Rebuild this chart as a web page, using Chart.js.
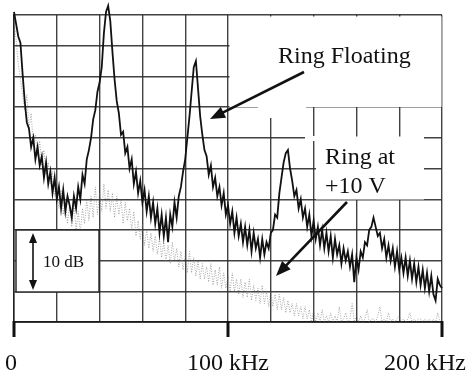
<!DOCTYPE html>
<html>
<head>
<meta charset="utf-8">
<script src="https://cdn.jsdelivr.net/npm/chart.js@4/dist/chart.umd.min.js"></script>
<style>
html,body{margin:0;padding:0;background:#fff;}
#wrap{width:466px;height:374px;position:relative;}
canvas{display:block;}
</style>
</head>
<body>
<div id="wrap"><canvas id="c" width="466" height="374"></canvas></div>
<script>
// Frequency axis (kHz)
const freqKHz = [0,1,2,3,4,5,6,7,8,9,10,11,12,13,14,15,16,17,18,19,20,21,22,23,24,25,26,27,28,29,30,31,32,33,34,35,36,37,38,39,40,41,42,43,44,45,46,47,48,49,50,51,52,53,54,55,56,57,58,59,60,61,62,63,64,65,66,67,68,69,70,71,72,73,74,75,76,77,78,79,80,81,82,83,84,85,86,87,88,89,90,91,92,93,94,95,96,97,98,99,100,101,102,103,104,105,106,107,108,109,110,111,112,113,114,115,116,117,118,119,120,121,122,123,124,125,126,127,128,129,130,131,132,133,134,135,136,137,138,139,140,141,142,143,144,145,146,147,148,149,150,151,152,153,154,155,156,157,158,159,160,161,162,163,164,165,166,167,168,169,170,171,172,173,174,175,176,177,178,179,180,181,182,183,184,185,186,187,188,189,190,191,192,193,194,195,196,197,198,199,200];

// Ring Floating (dB, relative)
const ringFloating = [0.5,-1.5,-3.5,-4.5,-9.5,-14.0,-17.5,-18.5,-21.5,-20.0,-23.5,-21.5,-24.5,-23.0,-26.5,-24.0,-27.5,-25.5,-29.0,-26.5,-30.0,-28.0,-31.5,-28.5,-32.0,-29.5,-31.0,-33.0,-29.5,-31.5,-28.0,-30.0,-26.0,-27.5,-23.5,-22.0,-20.0,-17.0,-15.5,-12.5,-11.0,-8.5,-3.0,0.5,1.5,-1.0,-6.0,-10.5,-14.0,-16.0,-19.5,-19.0,-22.5,-21.5,-25.0,-23.5,-27.5,-25.5,-29.0,-27.0,-30.5,-28.5,-32.0,-29.5,-33.0,-30.5,-34.0,-31.5,-35.5,-32.5,-36.0,-33.0,-37.0,-32.5,-34.5,-30.5,-33.0,-29.5,-28.0,-25.5,-23.5,-20.0,-16.5,-12.5,-8.5,-7.5,-12.0,-16.5,-19.5,-22.0,-23.0,-26.0,-24.5,-28.0,-26.5,-29.5,-28.0,-31.0,-29.0,-32.5,-31.0,-34.0,-32.0,-35.5,-33.0,-36.0,-34.0,-37.0,-34.5,-37.5,-35.0,-38.5,-35.5,-38.0,-36.5,-39.5,-36.5,-39.0,-37.0,-38.0,-35.5,-35.0,-32.5,-33.0,-29.0,-26.5,-24.0,-22.5,-22.0,-25.0,-27.0,-29.5,-28.5,-31.5,-30.0,-33.0,-31.5,-34.5,-32.5,-36.0,-33.5,-36.5,-34.5,-37.5,-35.0,-38.0,-35.5,-38.5,-36.0,-39.5,-36.5,-39.0,-37.5,-40.5,-38.0,-40.0,-38.5,-41.0,-39.0,-43.5,-39.5,-41.5,-38.5,-39.5,-37.0,-37.5,-35.0,-34.5,-33.0,-34.5,-36.0,-35.5,-38.0,-36.5,-39.5,-37.5,-40.0,-38.0,-41.0,-38.5,-41.5,-39.5,-42.0,-39.5,-42.5,-40.0,-43.0,-40.5,-43.5,-41.0,-44.0,-41.5,-44.5,-42.0,-45.0,-42.5,-45.5,-46.5,-43.0,-44.0,-44.5];

// Ring at +10 V (dB, relative)
const ringAt10V = [-1.0,-4.0,-8.0,-10.5,-13.0,-15.5,-13.0,-18.5,-16.0,-21.0,-19.5,-23.0,-20.5,-24.5,-22.0,-26.0,-24.0,-27.5,-25.5,-29.5,-27.0,-31.5,-28.5,-32.5,-30.0,-34.0,-31.0,-34.5,-30.5,-35.0,-32.0,-35.5,-31.5,-34.0,-30.0,-33.5,-29.5,-33.0,-28.0,-32.5,-29.0,-32.0,-27.5,-31.5,-28.5,-32.0,-29.0,-33.0,-29.5,-32.5,-30.0,-34.0,-30.5,-33.5,-31.5,-35.0,-32.0,-36.0,-33.5,-36.5,-34.0,-37.5,-35.0,-38.0,-35.5,-38.5,-36.0,-39.0,-36.5,-39.5,-37.0,-40.0,-37.5,-40.5,-37.0,-40.0,-38.0,-41.0,-38.5,-41.5,-39.0,-42.0,-38.5,-42.0,-39.5,-42.5,-40.0,-43.0,-40.5,-43.0,-41.0,-43.5,-40.5,-44.0,-41.5,-44.0,-41.0,-44.5,-42.0,-44.5,-42.5,-45.0,-42.0,-45.0,-43.0,-45.5,-43.0,-46.0,-43.5,-46.0,-43.0,-46.5,-44.0,-46.5,-44.5,-47.0,-44.0,-47.0,-45.0,-47.5,-45.0,-47.5,-45.5,-48.0,-45.5,-48.0,-46.0,-48.5,-46.5,-48.5,-47.0,-49.0,-47.0,-49.0,-47.5,-49.5,-47.5,-49.5,-48.0,-50.0,-48.0,-50.0,-48.5,-50.0,-48.0,-50.0,-49.0,-50.0,-48.5,-50.0,-49.0,-50.0,-47.5,-50.0,-49.5,-48.5,-50.0,-49.5,-47.0,-50.0,-49.0,-50.0,-49.0,-50.0,-49.5,-48.0,-50.0,-49.5,-49.5,-50.0,-49.0,-47.5,-50.0,-49.5,-50.0,-48.5,-50.0,-49.5,-50.0,-49.5,-49.0,-50.0,-49.5,-50.0,-49.5,-48.5,-50.0,-49.5,-50.0,-49.5,-49.5,-50.0,-49.5,-50.0,-49.5,-50.0,-49.5,-50.0,-48.5,-50.0,-49.5];

// Axis tick labels
const xTickValues = [0, 100, 200];
const xTickLabels = ['0', '100 kHz', '200 kHz'];
const seriesNames = ['Ring Floating', 'Ring at +10 V'];

const SERIF = '"Liberation Serif", "DejaVu Serif", serif';

function arrow(ctx, x1, y1, x2, y2, len, half, lw) {
  const a = Math.atan2(y2 - y1, x2 - x1);
  ctx.lineWidth = lw;
  ctx.beginPath();
  ctx.moveTo(x1, y1);
  ctx.lineTo(x2 - Math.cos(a) * len * 0.8, y2 - Math.sin(a) * len * 0.8);
  ctx.stroke();
  ctx.beginPath();
  ctx.moveTo(x2, y2);
  ctx.lineTo(x2 - Math.cos(a) * len + Math.sin(a) * half, y2 - Math.sin(a) * len - Math.cos(a) * half);
  ctx.lineTo(x2 - Math.cos(a) * len - Math.sin(a) * half, y2 - Math.sin(a) * len + Math.cos(a) * half);
  ctx.closePath();
  ctx.fill();
}

const whiteouts = {
  id: 'whiteouts',
  beforeDatasetsDraw(chart) {
    const ctx = chart.ctx;
    ctx.save();
    ctx.fillStyle = '#fff';
    ctx.fillRect(229.5, 16.5, 212, 90.5);
    ctx.fillRect(258, 100, 48, 18);
    ctx.fillRect(316, 136.5, 108, 63);
    ctx.fillRect(305, 136, 11, 5);
    ctx.restore();
  }
};

const decorations = {
  id: 'decorations',
  afterDatasetsDraw(chart) {
    const ctx = chart.ctx;
    const xs = chart.scales.x;
    const ys = chart.scales.y;
    ctx.save();
    // 10 dB scale box
    ctx.fillStyle = '#fff';
    ctx.fillRect(16, 230, 83, 62);
    ctx.strokeStyle = '#222';
    ctx.lineWidth = 1.4;
    ctx.strokeRect(16, 230, 83, 62);
    ctx.fillStyle = '#111';
    ctx.strokeStyle = '#111';
    ctx.lineWidth = 1.6;
    ctx.beginPath();
    ctx.moveTo(33, 240); ctx.lineTo(33, 283); ctx.stroke();
    ctx.beginPath(); ctx.moveTo(33, 233); ctx.lineTo(29, 243); ctx.lineTo(37, 243); ctx.closePath(); ctx.fill();
    ctx.beginPath(); ctx.moveTo(33, 290); ctx.lineTo(29, 280); ctx.lineTo(37, 280); ctx.closePath(); ctx.fill();
    ctx.font = '17px ' + SERIF;
    ctx.textBaseline = 'alphabetic';
    ctx.textAlign = 'left';
    ctx.fillText('10 dB', 43, 267);

    // series labels
    ctx.font = '24px ' + SERIF;
    ctx.fillText(seriesNames[0], 278, 63);
    ctx.fillText('Ring at', 325, 164);
    ctx.fillText('+10 V', 325, 193);

    // arrows
    ctx.strokeStyle = '#111';
    ctx.fillStyle = '#111';
    arrow(ctx, 304, 72, 210, 119, 15, 6, 2.6);
    arrow(ctx, 347, 202, 276, 276, 15, 6, 2.6);

    // x axis thick ticks + labels
    const yb = ys.getPixelForValue(-50);
    ctx.lineWidth = 3;
    ctx.strokeStyle = '#111';
    xTickValues.forEach(v => {
      const px = xs.getPixelForValue(v);
      ctx.beginPath();
      ctx.moveTo(px, yb - 1);
      ctx.lineTo(px, yb + 15);
      ctx.stroke();
    });
    ctx.font = '24px ' + SERIF;
    ctx.fillStyle = '#111';
    ctx.textAlign = 'center';
    ctx.fillText(xTickLabels[0], 11, 370);
    ctx.fillText(xTickLabels[1], xs.getPixelForValue(xTickValues[1]), 370);
    ctx.textAlign = 'right';
    ctx.fillText(xTickLabels[2], 466, 370);
    ctx.restore();
  }
};

new Chart(document.getElementById('c'), {
  type: 'line',
  data: {
    datasets: [
      {
        label: seriesNames[0],
        data: freqKHz.map((f, i) => ({ x: f, y: ringFloating[i] })),
        borderColor: '#111',
        borderWidth: 1.8,
        pointRadius: 0,
        tension: 0,
        clip: false
      },
      {
        label: seriesNames[1],
        data: freqKHz.map((f, i) => ({ x: f, y: ringAt10V[i] })),
        borderColor: 'rgba(110,110,110,0.6)',
        borderWidth: 1,
        borderDash: [1, 1.5],
        pointRadius: 0,
        tension: 0,
        clip: false
      }
    ]
  },
  options: {
    responsive: false,
    animation: false,
    devicePixelRatio: 1,
    layout: { padding: { left: 14, top: 15, right: 24, bottom: 52 } },
    plugins: { legend: { display: false }, tooltip: { enabled: false } },
    scales: {
      x: {
        type: 'linear', min: 0, max: 200,
        ticks: { display: false, stepSize: 20 },
        grid: { color: 'rgba(45,45,45,0.9)', lineWidth: 1.4, drawTicks: false },
        border: { display: true, color: '#1a1a1a', width: 1.8 }
      },
      y: {
        type: 'linear', min: -50, max: 0,
        ticks: { display: false, stepSize: 5 },
        grid: { color: 'rgba(45,45,45,0.9)', lineWidth: 1.4, drawTicks: false },
        border: { display: true, color: 'rgba(30,30,30,0.95)', width: 1.5 }
      }
    }
  },
  plugins: [whiteouts, decorations]
});
</script>
</body>
</html>
